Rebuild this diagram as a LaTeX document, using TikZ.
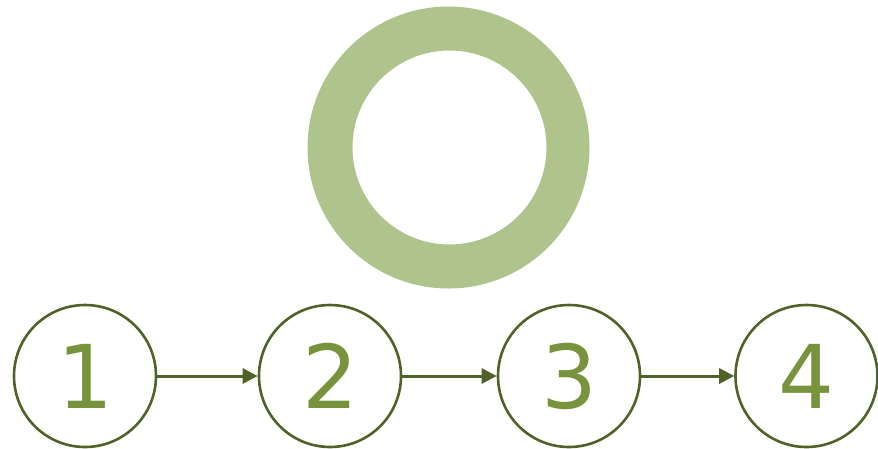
\documentclass[tikz,border=0pt]{standalone}
\usepackage{fontspec}
\setmainfont{DejaVu Sans}
\usetikzlibrary{arrows.meta}
\definecolor{ringgreen}{HTML}{AFC38C}
\definecolor{darkolive}{HTML}{4F6228}
\definecolor{numgreen}{HTML}{77933C}
\tikzset{
  stepcircle/.style={circle, draw=darkolive, line width=2.6pt, minimum size=142pt, inner sep=0pt,
    text=numgreen, font=\fontsize{88}{88}\selectfont},
  flow/.style={draw=darkolive, line width=3pt, -{Triangle[length=15pt,width=15pt]}}
}
\begin{document}
\begin{tikzpicture}[x=1pt,y=-1pt]
\useasboundingbox (0,0) rectangle (878,448);
\fill[ringgreen, even odd rule] (448.5,147.5) circle (141) (449.5,147.5) circle (97);
\node[stepcircle] (n1) at (85,376) {\raisebox{-2pt}{1}};
\node[stepcircle] (n2) at (330,376) {\raisebox{-2pt}{2}};
\node[stepcircle] (n3) at (569,376) {\raisebox{-2pt}{3}};
\node[stepcircle] (n4) at (806.5,376) {\raisebox{-2pt}{4}};
\draw[flow] (n1) -- (n2);
\draw[flow] (n2) -- (n3);
\draw[flow] (n3) -- (n4);
\end{tikzpicture}
\end{document}
